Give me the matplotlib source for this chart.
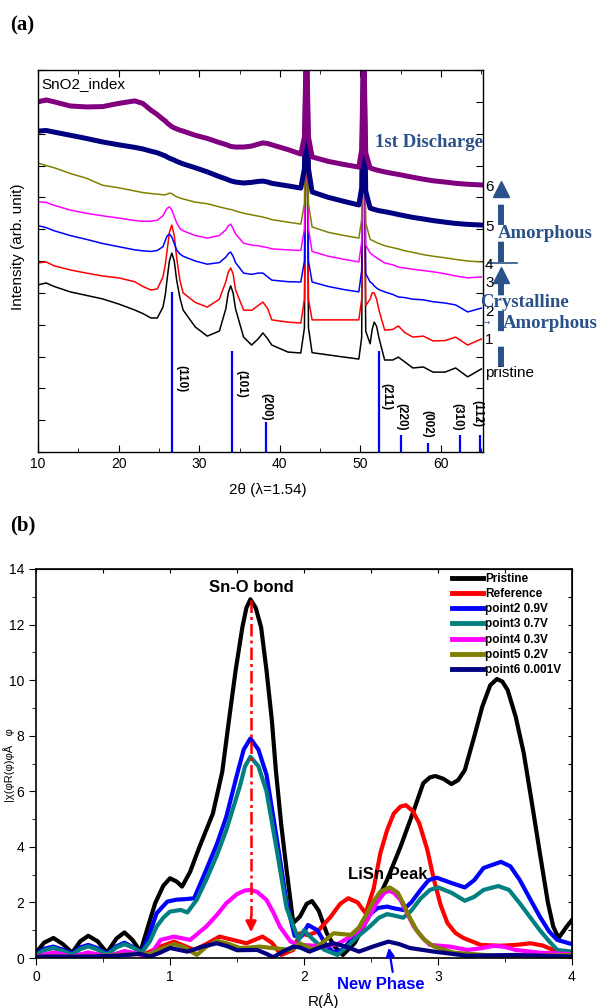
import matplotlib
matplotlib.use('Agg')
import matplotlib.pyplot as plt

plt.rcParams['font.family'] = ['Liberation Sans', 'DejaVu Sans']

# ---- (a) XRD data ----
two_theta = [10, 11, 12, 14, 16, 18, 20, 22, 23, 24,
             24.8, 25.5, 25.8, 26.0, 26.3, 26.6, 26.9, 27.2, 27.6, 28,
             29.5, 31, 32.5, 33.3, 33.6, 33.9, 34.2, 34.5, 35.5, 36.5,
             37.3, 37.9, 38.5, 39, 41, 42.6, 43.05, 43.3, 43.55, 44.0,
             46, 48, 49.8, 50.15, 50.4, 50.65, 51.2, 51.45, 51.7, 52.0,
             52.3, 53, 54, 54.7, 55.5, 56.5, 57.8, 59, 60.5, 61.8,
             63.3, 65]
xrd_pristine = [5.25, 5.31, 5.2, 5.03, 4.92, 4.81, 4.65, 4.46, 4.35, 4.21,
                4.21, 4.55, 4.95, 5.4, 6.0, 6.25, 6.0, 5.4, 4.85, 4.46,
                3.93, 3.64, 3.8, 4.5, 5.0, 5.22, 5.0, 4.5, 3.61, 3.36,
                3.55, 3.74, 3.55, 3.36, 3.14, 3.11, 3.9, 13, 3.9, 3.12,
                3.05, 2.98, 2.92, 3.6, 13, 3.8, 3.4, 3.85, 4.08, 3.95,
                3.58, 2.89, 2.89, 2.98, 2.83, 2.64, 2.67, 2.51, 2.51, 2.64,
                2.36, 2.61]
xrd_1 = [5.94, 5.97, 5.85, 5.72, 5.62, 5.53, 5.47, 5.35, 5.2, 5.09,
         5.12, 5.5, 5.9, 6.3, 6.9, 7.13, 6.8, 6.1, 5.4, 5.0,
         4.7, 4.55, 4.8, 5.35, 5.65, 5.78, 5.6, 5.1, 4.46, 4.45,
         4.6, 4.71, 4.5, 4.15, 4.08, 4.05, 4.8, 13, 4.8, 4.15,
         4.15, 4.15, 4.15, 4.8, 13, 4.6, 4.8, 5.0, 5.0, 4.8,
         4.45, 3.83, 3.85, 3.96, 3.75, 3.61, 3.64, 3.49, 3.5, 3.61,
         3.36, 3.55]
xrd_2 = [7.11, 7.05, 6.95, 6.8, 6.68, 6.55, 6.45, 6.35, 6.32, 6.3,
         6.33, 6.45, 6.65, 6.78, 6.85, 6.75, 6.55, 6.35, 6.22, 6.15,
         6.0, 5.9, 5.95, 6.12, 6.23, 6.28, 6.15, 5.95, 5.62, 5.58,
         5.62, 5.62, 5.5, 5.4, 5.35, 5.34, 6.0, 13, 6.0, 5.34,
         5.2, 5.1, 5.03, 5.7, 13, 5.6, 5.34, 5.3, 5.22, 5.15,
         5.1, 5.03, 4.95, 4.87, 4.85, 4.8, 4.78, 4.72, 4.68, 4.62,
         4.40, 4.52]
xrd_3 = [7.86, 7.84, 7.75, 7.6, 7.5, 7.42, 7.35, 7.27, 7.25, 7.25,
         7.28, 7.42, 7.56, 7.65, 7.7, 7.6, 7.4, 7.2, 7.02, 6.95,
         6.8, 6.72, 6.8, 6.98, 7.1, 7.16, 7.02, 6.85, 6.56, 6.5,
         6.48, 6.45, 6.42, 6.38, 6.35, 6.33, 7.0, 13, 7.0, 6.3,
         6.15, 6.05, 5.97, 6.6, 13, 6.5, 6.25, 6.2, 6.15, 6.1,
         6.05, 5.94, 5.88, 5.81, 5.78, 5.74, 5.7, 5.66, 5.6, 5.53,
         5.47, 5.50]
xrd_4 = [9.08, 9.0, 8.93, 8.75, 8.6, 8.38, 8.3, 8.2, 8.15, 8.12,
         8.1, 8.08, 8.08, 8.1, 8.13, 8.12, 8.06, 8.02, 7.98, 7.95,
         7.85, 7.8, 7.7, 7.65, 7.63, 7.62, 7.6, 7.57, 7.5, 7.45,
         7.41, 7.38, 7.34, 7.3, 7.22, 7.16, 7.8, 13, 7.8, 7.07,
         6.9, 6.8, 6.72, 7.3, 13, 7.2, 6.68, 6.65, 6.62, 6.58,
         6.55, 6.48, 6.42, 6.38, 6.32, 6.27, 6.2, 6.15, 6.1, 6.05,
         6.0, 5.97]
xrd_5 = [10.08, 10.1, 10.05, 9.95, 9.85, 9.74, 9.65, 9.57, 9.52, 9.45,
         9.4, 9.33, 9.3, 9.27, 9.23, 9.2, 9.17, 9.13, 9.09, 9.05,
         8.93, 8.8, 8.65, 8.58, 8.55, 8.52, 8.5, 8.48, 8.45, 8.47,
         8.5, 8.51, 8.48, 8.44, 8.36, 8.29, 8.9, 13, 8.9, 8.17,
         8.0, 7.87, 7.76, 8.3, 13, 8.2, 7.66, 7.64, 7.62, 7.6,
         7.58, 7.55, 7.5, 7.46, 7.42, 7.37, 7.32, 7.27, 7.22, 7.18,
         7.15, 7.13]
xrd_6 = [11.0, 11.06, 11.0, 10.87, 10.84, 10.85, 10.95, 11.03, 10.95, 10.74,
         10.6, 10.45, 10.4, 10.34, 10.28, 10.22, 10.18, 10.15, 10.11, 10.08,
         9.95, 9.85, 9.72, 9.66, 9.63, 9.6, 9.59, 9.58, 9.58, 9.61,
         9.67, 9.71, 9.69, 9.65, 9.5, 9.36, 9.9, 13, 9.9, 9.27,
         9.13, 9.03, 8.95, 9.5, 13, 9.4, 8.92, 8.9, 8.88, 8.86,
         8.84, 8.8, 8.75, 8.72, 8.68, 8.63, 8.57, 8.52, 8.48, 8.44,
         8.41, 8.39]
curve_names = ['pristine', '1', '2', '3', '4', '5', '6']

# SnO2 reference pattern
hkl = ['(110)', '(101)', '(200)', '(211)', '(220)', '(002)', '(310)', '(112)']
hkl_pos = [26.66, 34.03, 38.25, 52.35, 55.05, 58.4, 62.4, 64.8]
hkl_int = [5.04, 3.16, 0.93, 3.17, 0.53, 0.29, 0.53, 0.53]

# ---- (b) EXAFS data ----
r_pristine = [0, 0.06, 0.13, 0.2, 0.27, 0.33, 0.39, 0.46, 0.53, 0.6, 0.66, 0.72, 0.78, 0.84, 0.89, 0.95, 1.0,
              1.05, 1.09, 1.15, 1.22, 1.32, 1.39, 1.44, 1.49, 1.54, 1.57, 1.60, 1.64, 1.68, 1.72, 1.76, 1.79,
              1.83, 1.87, 1.92, 1.97, 2.02, 2.06, 2.11, 2.17, 2.23, 2.29, 2.38, 2.47, 2.55, 2.62, 2.72, 2.82,
              2.89, 2.94, 2.98, 3.04, 3.10, 3.15, 3.20, 3.27, 3.33, 3.39, 3.44, 3.48, 3.52, 3.58, 3.64, 3.70,
              3.76, 3.82, 3.86, 3.90, 3.96, 4.0]
ft_pristine = [0.19, 0.55, 0.72, 0.5, 0.19, 0.6, 0.80, 0.6, 0.19, 0.7, 0.92, 0.65, 0.23, 1.2, 1.98, 2.6, 2.87,
               2.75, 2.57, 3.1, 4.0, 5.2, 6.7, 8.56, 10.36, 11.9, 12.6, 12.91, 12.6, 11.9, 10.36, 8.56, 6.76,
               4.8, 3.17, 1.26, 1.49, 1.95, 2.05, 1.7, 0.89, 0.4, 0.11, 0.55, 1.37, 2.1, 2.81, 4.0, 5.32,
               6.29, 6.5, 6.55, 6.45, 6.26, 6.4, 6.76, 7.96, 9.04, 9.82, 10.04, 9.95, 9.64, 8.68, 7.37, 5.6,
               3.78, 2.0, 1.13, 0.72, 1.13, 1.37]
r_ref = [0, 0.13, 0.27, 0.4, 0.53, 0.66, 0.8, 0.93, 1.03, 1.1, 1.18, 1.27, 1.37, 1.47, 1.57, 1.63, 1.69,
         1.76, 1.83, 1.92, 1.97, 2.03, 2.1, 2.2, 2.27, 2.33, 2.4, 2.46, 2.52, 2.57, 2.62, 2.67, 2.72, 2.76,
         2.81, 2.86, 2.92, 2.97, 3.02, 3.07, 3.13, 3.19, 3.32, 3.47, 3.6, 3.69, 3.78, 3.86, 4.0]
ft_ref = [0.05, 0.17, 0.07, 0.17, 0.07, 0.2, 0.12, 0.41, 0.59, 0.45, 0.29, 0.5, 0.77, 0.65, 0.53, 0.65, 0.77,
          0.55, 0.11, 0.29, 0.89, 0.82, 0.95, 1.49, 1.95, 2.15, 2.0, 1.61, 2.5, 3.78, 4.6, 5.2, 5.45, 5.5,
          5.3, 4.85, 3.9, 2.81, 1.9, 1.26, 0.9, 0.72, 0.47, 0.44, 0.48, 0.53, 0.45, 0.29, 0.19]
r_p2 = [0, 0.06, 0.13, 0.2, 0.27, 0.33, 0.39, 0.46, 0.53, 0.6, 0.66, 0.72, 0.79, 0.85, 0.9, 0.98, 1.05,
        1.12, 1.18, 1.27, 1.35, 1.42, 1.5, 1.55, 1.6, 1.66, 1.72, 1.8, 1.87, 1.93, 1.98, 2.03, 2.1, 2.16,
        2.22, 2.29, 2.35, 2.47, 2.55, 2.62, 2.68, 2.74, 2.8, 2.87, 2.93, 2.99, 3.1, 3.2, 3.27, 3.34, 3.47,
        3.54, 3.61, 3.69, 3.76, 3.83, 3.89, 4.0]
ft_p2 = [0.15, 0.33, 0.41, 0.3, 0.15, 0.38, 0.47, 0.35, 0.15, 0.42, 0.55, 0.4, 0.2, 0.9, 1.61, 2.03, 2.1,
         2.12, 2.15, 3.17, 4.1, 5.08, 6.6, 7.5, 7.9, 7.5, 6.6, 4.2, 2.0, 0.8, 0.77, 1.19, 1.0, 0.5,
         0.2, 0.3, 0.65, 1.49, 1.8, 1.85, 1.78, 1.73, 2.0, 2.45, 2.8, 2.89, 2.7, 2.54, 2.8, 3.24, 3.46,
         3.3, 2.81, 2.1, 1.49, 0.95, 0.65, 0.5]
r_p3 = [0, 0.06, 0.13, 0.2, 0.27, 0.33, 0.39, 0.46, 0.53, 0.6, 0.66, 0.72, 0.79, 0.85, 0.9, 0.95, 1.0,
        1.08, 1.13, 1.2, 1.27, 1.35, 1.42, 1.52, 1.56, 1.6, 1.66, 1.72, 1.8, 1.87, 1.96, 2.0, 2.05, 2.15,
        2.25, 2.33, 2.4, 2.49, 2.56, 2.62, 2.68, 2.74, 2.8, 2.87, 2.94, 3.0, 3.1, 3.2, 3.27, 3.34, 3.45,
        3.53, 3.61, 3.69, 3.76, 3.83, 3.89, 4.0]
ft_p3 = [0.1, 0.28, 0.36, 0.25, 0.12, 0.32, 0.42, 0.3, 0.12, 0.38, 0.5, 0.38, 0.2, 0.6, 1.13, 1.45, 1.67,
         1.73, 1.64, 2.1, 2.81, 3.7, 4.6, 6.16, 6.9, 7.24, 6.9, 6.0, 3.8, 1.8, 0.65, 1.0, 0.75, 0.3,
         0.11, 0.45, 0.77, 1.13, 1.45, 1.58, 1.52, 1.45, 1.7, 2.14, 2.45, 2.54, 2.35, 2.06, 2.2, 2.45, 2.59,
         2.45, 1.97, 1.45, 1.0, 0.6, 0.29, 0.23]
r_p4 = [0, 0.13, 0.27, 0.39, 0.53, 0.66, 0.76, 0.82, 0.88, 0.93, 1.03, 1.15, 1.27, 1.35, 1.42, 1.5, 1.56,
        1.6, 1.65, 1.72, 1.77, 1.82, 1.9, 1.97, 2.05, 2.15, 2.25, 2.33, 2.4, 2.44, 2.5, 2.54, 2.6, 2.63,
        2.67, 2.72, 2.77, 2.82, 2.88, 2.94, 3.09, 3.22, 3.32, 3.42, 3.5, 3.58, 3.76, 4.0]
ft_p4 = [0.05, 0.2, 0.05, 0.2, 0.05, 0.25, 0.15, 0.02, 0.3, 0.65, 0.77, 0.65, 1.13, 1.55, 1.97, 2.3, 2.43,
         2.45, 2.38, 2.09, 1.65, 1.13, 0.59, 0.47, 0.45, 0.42, 0.5, 0.72, 0.95, 1.13, 1.6, 1.97, 2.35, 2.42,
         2.35, 2.09, 1.6, 1.13, 0.75, 0.47, 0.41, 0.29, 0.35, 0.44, 0.4, 0.29, 0.19, 0.14]
r_p5 = [0, 0.4, 0.78, 0.85, 0.92, 0.98, 1.03, 1.1, 1.2, 1.27, 1.35, 1.43, 1.52, 1.6, 1.67, 1.78, 1.9,
        1.97, 2.07, 2.15, 2.22, 2.35, 2.41, 2.47, 2.52, 2.57, 2.64, 2.7, 2.74, 2.79, 2.84, 2.9, 2.97, 3.12,
        3.34, 3.58, 4.0]
ft_p5 = [0.05, 0.05, 0.15, 0.15, 0.3, 0.41, 0.5, 0.4, 0.11, 0.4, 0.62, 0.52, 0.36, 0.38, 0.41, 0.35, 0.29,
         0.53, 0.29, 0.6, 0.89, 0.83, 1.1, 1.61, 2.05, 2.39, 2.54, 2.35, 1.97, 1.45, 1.0, 0.65, 0.41, 0.19,
         0.11, 0.05, 0.11]
r_p6 = [0, 0.4, 0.6, 0.78, 0.85, 0.93, 1.0, 1.13, 1.25, 1.35, 1.43, 1.5, 1.65, 1.72, 1.77, 1.85, 1.92,
        1.97, 2.04, 2.13, 2.22, 2.32, 2.41, 2.52, 2.63, 2.71, 2.79, 2.97, 3.22, 3.58, 4.0]
ft_p6 = [0.05, 0.05, 0.08, 0.15, 0.05, 0.2, 0.36, 0.23, 0.42, 0.53, 0.42, 0.28, 0.29, 0.15, 0.03, 0.25, 0.41,
         0.38, 0.23, 0.4, 0.53, 0.4, 0.23, 0.42, 0.59, 0.5, 0.36, 0.23, 0.08, 0.11, 0.05]
exafs_labels = ['Pristine', 'Reference', 'point2 0.9V', 'point3 0.7V', 'point4 0.3V', 'point5 0.2V', 'point6 0.001V']

note_c = '#2a5289'
serif = ['Liberation Serif', 'DejaVu Serif']

fig = plt.figure(figsize=(5.98, 10.08), dpi=100)

# ================= (a) =================
ax1 = fig.add_axes([38/598, 1-452/1008, 445/598, 382/1008])
xrd_all = [xrd_pristine, xrd_1, xrd_2, xrd_3, xrd_4, xrd_5, xrd_6]
xrd_col = ['black', 'red', 'blue', 'magenta', '#808000', '#000080', '#800080']
xrd_lw = [1.1, 1.1, 1.1, 1.1, 1.1, 3.6, 3.6]
for yy, c, lw in zip(xrd_all, xrd_col, xrd_lw):
    ax1.plot(two_theta, yy, color=c, lw=lw, solid_joinstyle='round')

ax1.vlines(hkl_pos, 0, hkl_int, color='blue', lw=1.6)
lab_xy = [(27.74, 2.73), (35.27, 2.58), (38.37, 1.85), (53.18, 2.17),
          (55.1, 1.54), (58.26, 1.32), (62.05, 1.54), (64.47, 1.63)]
for t, (lx, ly) in zip(hkl, lab_xy):
    ax1.text(lx, ly, t, rotation=-90, ha='center', va='top', fontsize=8.5, fontweight='bold')

ax1.set_xlim(10, 65.2)
ax1.set_ylim(0, 12)
ax1.set_xticks([10, 20, 30, 40, 50, 60])
ax1.set_xticks([15, 25, 35, 45, 55, 65], minor=True)
ax1.set_yticks(range(0, 13))
ax1.tick_params(which='both', direction='in', top=True, right=True, labelleft=False, labelsize=10)
ax1.tick_params(which='major', length=5)
ax1.tick_params(which='minor', length=3)
for s in ax1.spines.values():
    s.set_linewidth(1.0)
ax1.text(0.517, -0.08, '2θ (λ=1.54)', transform=ax1.transAxes, ha='center', va='top', fontsize=11)
fig.text(18/598, 1-247/1008, 'Intensity (arb. unit)', rotation=90, ha='center', va='center', fontsize=11)
ax1.text(10.4, 11.55, 'SnO2_index', fontsize=11, va='center')

# curve names on the right
name_y = [2.48, 3.52, 4.4, 5.3, 5.88, 7.07, 8.33]
for nm, ny in zip(curve_names, name_y):
    ax1.text(65.45, ny, nm, fontsize=11, va='center', ha='left', clip_on=False)

ax1.text(65.2, 9.71, '1st Discharge', ha='right', va='center', fontsize=13.5, fontweight='bold',
         color=note_c, family=serif)
ax1.text(67.0, 6.85, 'Amorphous', ha='left', va='center', fontsize=13.5, fontweight='bold',
         color=note_c, family=serif, clip_on=False)
ax1.text(64.8, 4.7, 'Crystalline', ha='left', va='center', fontsize=13.5, fontweight='bold',
         color=note_c, family=serif, clip_on=False)
ax1.text(64.8, 4.05, '→', ha='left', va='center', fontsize=9, color=note_c, family=serif, clip_on=False)
ax1.text(67.65, 4.05, 'Amorphous', ha='left', va='center', fontsize=13.5, fontweight='bold',
         color=note_c, family=serif, clip_on=False)

# dashed arrows beside the curves
ax1.plot([67.4, 67.4], [5.97, 8.05], color=note_c, lw=4.3, ls=(0, (3.4, 2.8)),
         dash_capstyle='butt', clip_on=False)
ax1.plot(67.4, 8.25, marker='^', ms=11, color=note_c, clip_on=False)
ax1.plot([67.4, 67.4], [2.67, 5.35], color=note_c, lw=4.3, ls=(0, (3.4, 2.6)),
         dash_capstyle='butt', clip_on=False)
ax1.plot(67.4, 5.55, marker='^', ms=11, color=note_c, clip_on=False)
ax1.plot([65.85, 69.4], [5.94, 5.94], color=note_c, lw=1.2, clip_on=False)

fig.text(10/598, 1-25/1008, '(a)', ha='left', va='center', fontsize=15, fontweight='bold', family=serif)

# ================= (b) =================
ax2 = fig.add_axes([36/598, 1-958/1008, 536/598, 389/1008])
exafs_r = [r_pristine, r_ref, r_p2, r_p3, r_p4, r_p5, r_p6]
exafs_y = [ft_pristine, ft_ref, ft_p2, ft_p3, ft_p4, ft_p5, ft_p6]
exafs_col = ['black', 'red', 'blue', '#008080', 'magenta', '#808000', '#000080']
for rr, yy, c, lb in zip(exafs_r, exafs_y, exafs_col, exafs_labels):
    ax2.plot(rr, yy, color=c, lw=3, label=lb, solid_joinstyle='round')

ax2.set_xlim(0, 4)
ax2.set_ylim(0, 14)
ax2.set_xticks([0, 1, 2, 3, 4])
ax2.set_xticks([0.5, 1.5, 2.5, 3.5], minor=True)
ax2.set_yticks(range(0, 15, 2))
ax2.set_yticks(range(1, 14, 2), minor=True)
ax2.tick_params(which='both', direction='out', labelsize=10)
ax2.tick_params(which='major', length=5)
ax2.tick_params(which='minor', length=3)
ax2.secondary_xaxis('top').tick_params(which='both', direction='in', labeltop=False, length=3)
sec_y = ax2.secondary_yaxis('right')
sec_y.set_yticks(range(0, 15))
sec_y.tick_params(direction='in', labelright=False, length=3)
for s in ax2.spines.values():
    s.set_linewidth(1.2)

leg = ax2.legend(loc='upper left', bbox_to_anchor=(0.776, 0.99), frameon=False, borderpad=0,
                 borderaxespad=0, handlelength=2.6, handletextpad=0.2, labelspacing=0.27,
                 prop={'size': 8.5, 'weight': 'bold'})
for h in leg.get_lines():
    h.set_linewidth(3.5)

# Sn-O bond arrow
ax2.plot([1.605, 1.605], [12.9, 1.5], color='red', lw=1.8, ls=(0, (5, 1.6, 1.2, 1.6)))
ax2.annotate('', xy=(1.605, 0.83), xytext=(1.605, 1.6),
             arrowprops=dict(arrowstyle='-|>', color='red', lw=1.8, mutation_scale=16))
ax2.text(1.61, 13.35, 'Sn-O bond', ha='center', va='center', fontsize=12, fontweight='bold')
ax2.text(2.625, 2.99, 'LiSn Peak', ha='center', va='center', fontsize=12, fontweight='bold')
ax2.annotate('', xy=(2.63, 0.47), xytext=(2.665, -0.6), annotation_clip=False,
             arrowprops=dict(arrowstyle='-|>', color='blue', lw=1.6, mutation_scale=12))
ax2.text(2.573, -0.97, 'New Phase', ha='center', va='center', fontsize=12, fontweight='bold',
         color='blue', clip_on=False)
ax2.text(0.537, -0.09, 'R(Å)', transform=ax2.transAxes, ha='center', va='top', fontsize=11)
fig.text(9/598, 1-765/1008, '|χ(φR(φ)φÅ   φ', rotation=90, ha='center', va='center', fontsize=8)

fig.text(10/598, 1-525/1008, '(b)', ha='left', va='center', fontsize=15, fontweight='bold', family=serif)

fig.savefig('out.png', dpi=100)
